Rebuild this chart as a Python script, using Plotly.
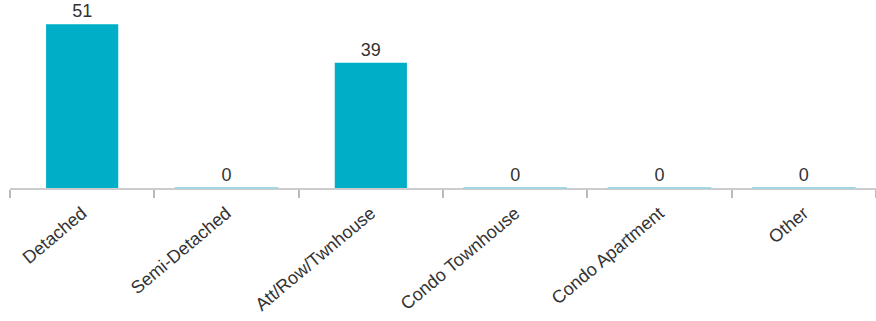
import plotly.graph_objects as go

categories = ["Detached", "Semi-Detached", "Att/Row/Twnhouse", "Condo Townhouse", "Condo Apartment", "Other"]
values = [51, 0, 39, 0, 0, 0]

bar_color = "#00AEC7"
zero_color = "#A3D8E3"

zero_cats = [c for c, v in zip(categories, values) if v == 0]
zero_vals = [v for v in values if v == 0]

fig = go.Figure()
fig.add_trace(go.Bar(
    x=categories, y=values,
    marker=dict(color=bar_color, line=dict(width=0)),
    text=[str(v) for v in values], textposition="outside",
    textfont=dict(size=18, color="#333333"),
    cliponaxis=False, width=0.5,
))
fig.add_trace(go.Scatter(
    x=zero_cats, y=zero_vals, mode="markers",
    marker=dict(symbol="line-ew", size=74, line=dict(color=zero_color, width=2)),
    cliponaxis=False, hoverinfo="skip",
))
fig.update_layout(
    width=876, height=321,
    margin=dict(l=10, r=0, t=5, b=133, autoexpand=False),
    paper_bgcolor="white", plot_bgcolor="white",
    showlegend=False,
    font=dict(family="Arial, Liberation Sans, sans-serif", color="#333333"),
    xaxis=dict(
        type="category", range=[-0.5, len(categories) - 0.5],
        showgrid=False, showline=True, linecolor="#CCCCCC", linewidth=1.5,
        ticks="outside", tickson="boundaries", ticklen=8, tickcolor="#BBBBBB", tickwidth=1.5,
        tickangle=-40, tickfont=dict(size=18, color="#333333"), automargin=False,
        ticklabelstandoff=6, layer="below traces",
    ),
    yaxis=dict(range=[0, 57], visible=False, showgrid=False, zeroline=False, automargin=False),
)
fig.write_html("out.html", config={"displayModeBar": False},
               post_script="document.body.style.margin='0';document.body.style.overflow='hidden';")
